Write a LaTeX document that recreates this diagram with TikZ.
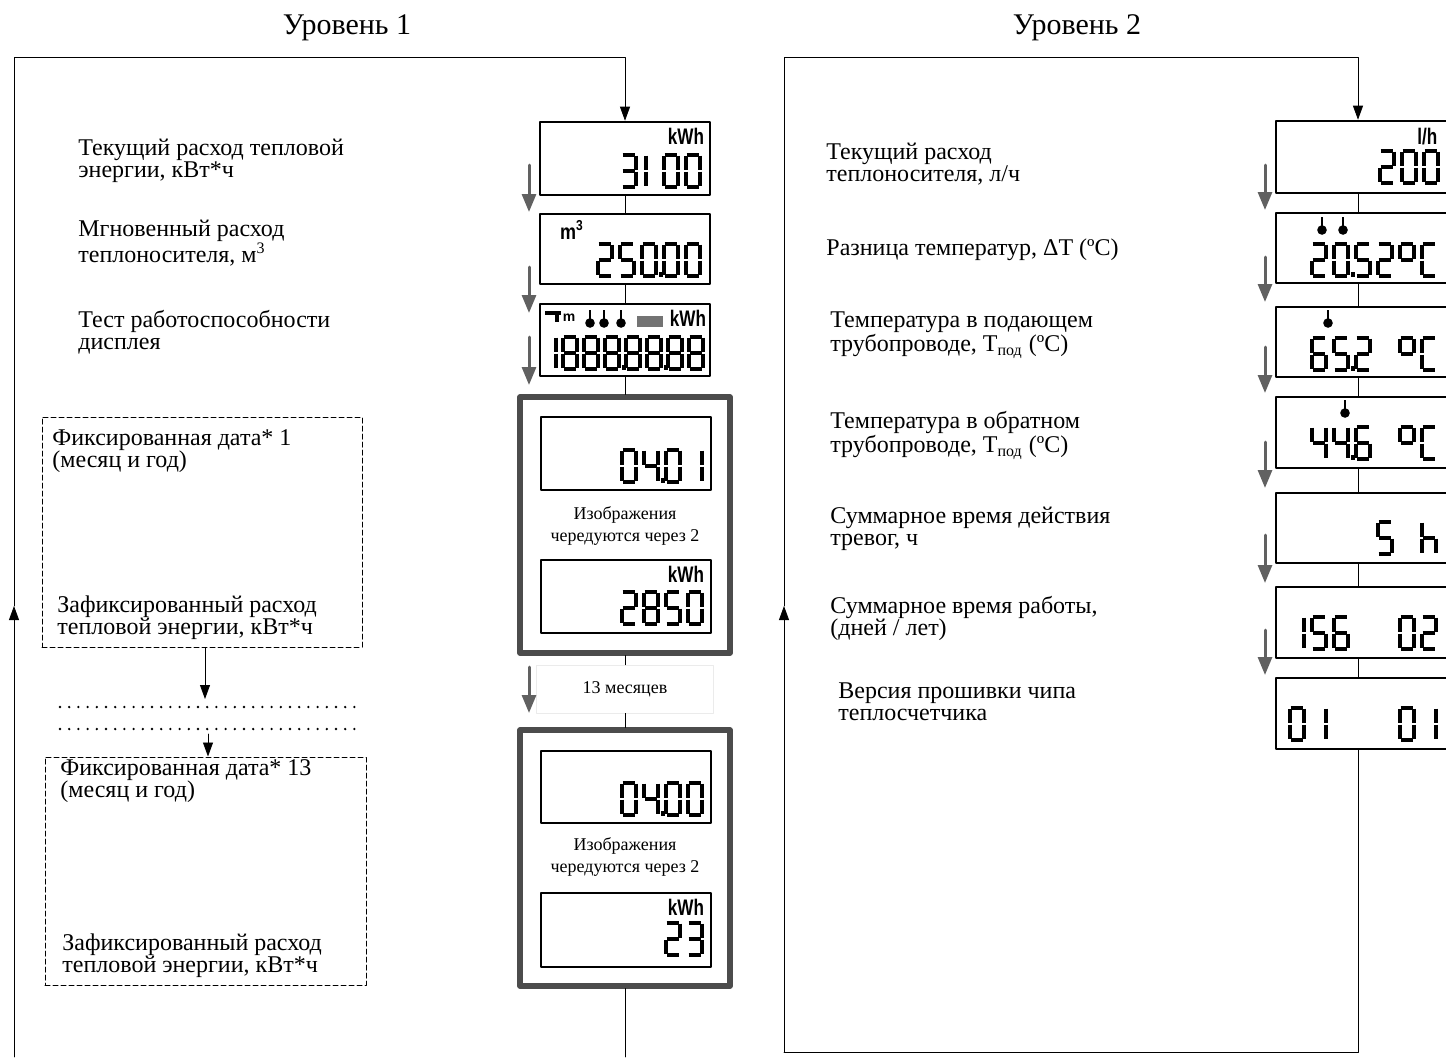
\documentclass[tikz,border=0pt]{standalone}
\usepackage{fontspec}
\setmainfont{Liberation Serif}
\setsansfont{Liberation Sans}
\usetikzlibrary{arrows.meta,calc}

% seven-segment cell, 14 x 32 units, origin at the top left corner
\def\lcdsega{\draw[lcdseg] (0,0) -- (14,0);}
\def\lcdsegb{\draw[lcdseg] (14,0) -- (14,16);}
\def\lcdsegc{\draw[lcdseg] (14,16) -- (14,32);}
\def\lcdsegd{\draw[lcdseg] (0,32) -- (14,32);}
\def\lcdsege{\draw[lcdseg] (0,16) -- (0,32);}
\def\lcdsegf{\draw[lcdseg] (0,0) -- (0,16);}
\def\lcdsegg{\draw[lcdseg] (0,16) -- (14,16);}
\def\lcdsegp{\fill (17,28) rectangle (21,33);}

% characters: plain and with the decimal point
\newcommand\lcddef[2]{%
  \expandafter\def\csname lcdchr#1\endcsname{#2}%
  \expandafter\def\csname lcdchr#1p\endcsname{#2,p}}
\lcddef{0}{a,b,c,d,e,f}
\lcddef{1}{b,c}
\lcddef{2}{a,b,g,e,d}
\lcddef{3}{a,b,g,c,d}
\lcddef{4}{f,g,b,c}
\lcddef{5}{a,f,g,c,d}
\lcddef{6}{a,f,g,e,d,c}
\lcddef{8}{a,b,c,d,e,f,g}
\lcddef{o}{a,b,g,f}
\lcddef{C}{a,f,e,d}
\lcddef{h}{f,e,g,c}
\lcddef{x}{n}

\tikzset{
  lcdseg/.style={line width=2.3pt,line cap=butt,shorten <=.3pt,shorten >=.3pt},
  pics/lcdchar/.style={code={%
    \edef\lcdsegs{\csname lcdchr#1\endcsname}%
    \foreach \sg in \lcdsegs {\csname lcdseg\sg\endcsname}}},
  pics/thermo/.style={code={%
    \draw[line width=1.4pt,line cap=butt] (0,0) -- (0,11);
    \fill (0,13) circle (2.4pt);}},
}

% one row of digits: [pitch]{top left of the first cell}{characters}
\newcommand\lcdrow[3][22]{%
  \foreach \lcdc [count=\i from 0] in {#3}
    \pic at ($(#2)+(#1*\i,0)$) {lcdchar=\lcdc};}
\newcommand\lcdkwh{\scalebox{.95}[1.25]{kWh}}

\begin{document}
\begin{tikzpicture}[x=0.5pt,y=-0.5pt,line join=round,line cap=round,
    heading/.style={inner sep=0pt,font=\fontsize{15}{15}\selectfont},
    txt/.style={anchor=west,align=left,inner sep=0pt,font=\fontsize{12}{11}\selectfont},
    note/.style={align=center,inner sep=0pt,font=\fontsize{9}{11}\selectfont},
    lcdbox/.style={draw,line width=1.3pt,inner sep=0pt,minimum width=85pt},
    rlcdbox/.style={lcdbox,minimum width=86.5pt},
    groupbox/.style={draw=black!70,line width=2.6pt,inner sep=0pt,
      minimum width=105pt,minimum height=128pt},
    monthbox/.style={draw=black!8,note,minimum width=88.5pt,minimum height=24pt},
    datebox/.style={draw,line width=.5pt,dash pattern=on 2.5pt off 1.5pt,inner sep=0pt},
    lcdunit/.style={inner sep=0pt,font=\sffamily\bfseries\fontsize{9}{9}\selectfont},
    arr/.style={-{Triangle[width=5pt,length=7pt]}},
    grayarr/.style={draw=black!62,line width=1.5pt,-{Triangle[width=7pt,length=9pt]}},
    dots/.style={line width=1.3pt,dash pattern=on 0pt off 4.6pt,line cap=round}]
  \useasboundingbox (0,0) rectangle (1446,1057);
  \clip (0,0) rectangle (1446,1057);

  \node[heading] (h1) at (347,28) {Уровень 1};
  \node[heading] (h2) at (1077,28) {Уровень 2};

  %%% level 1
  \node[lcdbox,minimum height=36.5pt] (L1) at (625,158.5) {};
  \node[lcdbox,minimum height=35pt] (L2) at (625,249) {};
  \node[lcdbox,minimum height=36pt] (L3) at (625,340) {};
  \node[groupbox] (G1) at (625,525) {};
  \node[lcdbox,minimum height=36.5pt] (L4) at (626,453.5) {};
  \node[note] (G1t) at (625,526) {Изображения\\чередуются через 2};
  \node[lcdbox,minimum height=36.5pt] (L5) at (626,596.5) {};
  \node[monthbox] (M) at (625,689) {13 месяцев};
  \node[groupbox] (G2) at (625,858) {};
  \node[lcdbox,minimum height=36pt] (L6) at (626,787) {};
  \node[note] (G2t) at (625,857) {Изображения\\чередуются через 2};
  \node[lcdbox,minimum height=37pt] (L7) at (626,930) {};

  \lcdrow{622,155}{3}
  \lcdrow{632,155}{1}
  \lcdrow{664,155}{0,0}
  \lcdrow{598,244}{2,5,0p,0,0}
  \lcdrow[21]{542,337}{1,8,8,8p,8,8p,8,8}
  \lcdrow{622,450}{0,4p,0,1}
  \lcdrow{622,592}{2,8,5,0}
  \lcdrow{622,783}{0,4p,0,0}
  \lcdrow{666,923}{2,3}

  \node[lcdunit] (u1) at (686,136) {\lcdkwh};
  \node[lcdunit] (u2) at (572,230) {\scalebox{1}[1.2]{m\textsuperscript{3}}};
  \node[lcdunit] (u5) at (686,574) {\lcdkwh};
  \node[lcdunit] (u7) at (686,907) {\lcdkwh};
  % symbol row of the display test
  \fill (545,311) rectangle (561,315);
  \fill (555,315) rectangle (559,322);
  \node[lcdunit,font=\sffamily\bfseries\fontsize{7}{7}\selectfont] (u3m) at (569,318) {m};
  \pic at (590,310) {thermo};
  \pic at (604,310) {thermo};
  \pic at (621,310) {thermo};
  \fill[black!55] (637,316) rectangle (663,327);
  \node[lcdunit] (u3) at (688,318) {\lcdkwh};

  \node[txt] (t1) at (78,161) {Текущий расход тепловой\\энергии, кВт*ч};
  \node[txt] (t2) at (78,243) {Мгновенный расход\\теплоносителя, м\textsuperscript{3}};
  \node[txt] (t3) at (78,332) {Тест работоспособности\\дисплея};

  \node[datebox,minimum width=160pt,minimum height=115pt] (F1) at (202,532) {};
  \node[txt] (f1a) at (52,451) {Фиксированная дата* 1\\(месяц и год)};
  \node[txt] (f1b) at (57,618) {Зафиксированный расход\\тепловой энергии, кВт*ч};
  \node[datebox,minimum width=160.5pt,minimum height=114pt] (F2) at (205.5,871) {};
  \node[txt] (f2a) at (60,781) {Фиксированная дата* 13\\(месяц и год)};
  \node[txt] (f2b) at (62,956) {Зафиксированный расход\\тепловой энергии, кВт*ч};

  \coordinate (D1) at (205,699);
  \coordinate (D2) at (208,734);
  \draw[arr] (F1.south -| D1) -- (D1);
  \draw[dots] (60,707) -- (357,707);
  \draw[dots] (60,729) -- (357,729);
  \draw[arr] (D2) -- (D2 |- F2.north);

  \foreach \a/\b in {L1/L2,L2/L3,L3/G1,G1/M,M/G2}
    \draw (\a) -- (\b);
  \coordinate (Lend) at (621,1057);
  \draw (G2) -- (G2 |- Lend);

  \coordinate (Lfoot) at (14,1057);
  \coordinate (Lret) at (14,606);
  \coordinate (Lcorner) at (14,57);
  \draw[arr] (Lfoot) -- (Lret);
  \draw[arr] (Lret) -- (Lcorner) -| (L1.north);

  \foreach \ya/\yb in {165/212,267/313,337/385,667/713}
    \draw[grayarr] (529,\ya) -- (529,\yb);

  %%% level 2
  \node[rlcdbox,minimum height=36pt] (R1) at (1362.5,157) {};
  \node[rlcdbox,minimum height=35pt] (R2) at (1362.5,248) {};
  \node[rlcdbox,minimum height=35pt] (R3) at (1362.5,342) {};
  \node[rlcdbox,minimum height=35.5pt] (R4) at (1362.5,432.5) {};
  \node[rlcdbox,minimum height=35pt] (R5) at (1362.5,528) {};
  \node[rlcdbox,minimum height=35.5pt] (R6) at (1362.5,622.5) {};
  \node[rlcdbox,minimum height=35.5pt] (R7) at (1362.5,713.5) {};

  \lcdrow{1380,151}{2,0,0}
  \lcdrow{1312,244}{2,0p,5,2,o,C}
  \lcdrow{1312,338}{6,5p,2,x,o,C}
  \lcdrow{1312,427}{4,4p,6,x,o,C}
  \lcdrow{1378,522}{5,x,h}
  \lcdrow{1290,617}{1,5,6,x,x,0,2}
  \lcdrow{1290,708}{0,1,x,x,x,0,1}

  \node[lcdunit,anchor=west] (v1) at (1417,137) {\scalebox{.95}[1.25]{l/h}};
  \pic at (1322,217) {thermo};
  \pic at (1343,217) {thermo};
  \pic at (1328,310) {thermo};
  \pic at (1345,400) {thermo};

  \node[txt] (s1) at (826,164) {Текущий расход\\теплоносителя, л/ч};
  \node[txt] (s2) at (826,250) {Разница температур, ΔT (ºC)};
  \node[txt] (s3) at (830,335) {Температура в подающем\\трубопроводе, T\textsubscript{под} (ºC)};
  \node[txt] (s4) at (830,435) {Температура в обратном\\трубопроводе, T\textsubscript{под} (ºC)};
  \node[txt] (s5) at (830,529) {Суммарное время действия\\тревог, ч};
  \node[txt] (s6) at (830,618) {Суммарное время работы,\\(дней / лет)};
  \node[txt] (s7) at (838,702) {Версия прошивки чипа\\теплосчетчика};

  \coordinate (Rx) at (1358,0);
  \foreach \a/\b in {R1/R2,R2/R3,R3/R4,R4/R5,R5/R6,R6/R7}
    \draw (\a.south -| Rx) -- (\b.north -| Rx);

  \coordinate (Rbot) at (784,1052);
  \coordinate (Rret) at (784,606);
  \coordinate (Rcorner) at (784,57);
  \draw[arr] (Rbot) -- (Rret);
  \draw[arr] (Rret) -- (Rcorner) -| (R1.north -| Rx);
  \draw (R7.south -| Rx) |- (Rbot);

  \foreach \ya/\yb in {165/210,257/302,347/393,442/488,535/583,630/675}
    \draw[grayarr] (1265,\ya) -- (1265,\yb);
\end{tikzpicture}
\end{document}
